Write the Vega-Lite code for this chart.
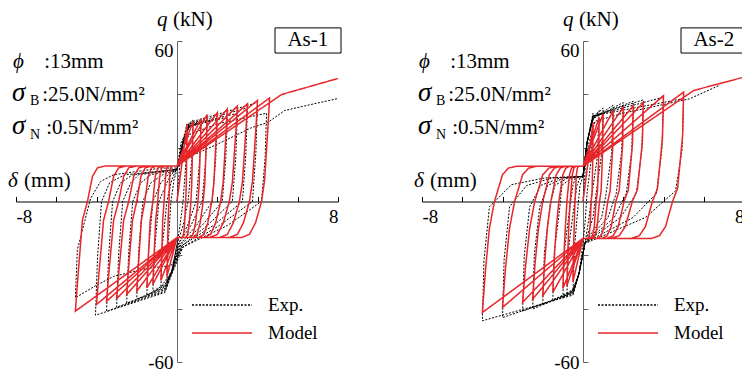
{
"$schema":"https://vega.github.io/schema/vega-lite/v6.json",
"background":"white",
"padding":{"left":7,"top":9,"right":0,"bottom":0},
"bounds":"flush",
"spacing":84,
"config":{
 "view":{"stroke":null},
 "font":"Liberation Serif",
 "axis":{"grid":false,"labelFont":"Liberation Serif","labelFontSize":19,"labelColor":"#000","domainColor":"#000","tickColor":"#000","domainWidth":1,"tickWidth":1},
 "legend":{"symbolType":"M-3,0H3","symbolSize":400,"labelFont":"Liberation Serif","labelFontSize":19,"labelColor":"#000","labelOffset":35,"rowPadding":7,"padding":0,"symbolStrokeWidth":1.3,"orient":"none","legendX":195,"legendY":253},
 "text":{"font":"Liberation Serif","fontSize":21,"color":"#000","align":"left","baseline":"alphabetic"}
},
"datasets":{
"LM":[{"x":0,"y":0},
{"x":0.5,"y":29},{"x":0.49,"y":21.8},{"x":0.46,"y":5.8},{"x":0.43,"y":0},{"x":0.38,"y":-8},{"x":0.33,"y":-12.3},{"x":0.27,"y":-13.5},{"x":0,"y":-13.5},{"x":-0.5,"y":-28},{"x":-0.48,"y":-21},{"x":-0.44,"y":-7},{"x":-0.4,"y":0},{"x":-0.36,"y":9.4},{"x":-0.32,"y":12.6},{"x":-0.25,"y":13.3},{"x":0,"y":13.3},
{"x":0.8,"y":30},{"x":0.78,"y":22.5},{"x":0.73,"y":6},{"x":0.69,"y":0},{"x":0.61,"y":-8},{"x":0.53,"y":-12.3},{"x":0.43,"y":-13.5},{"x":0,"y":-13.5},{"x":-0.8,"y":-29.5},{"x":-0.77,"y":-22.1},{"x":-0.71,"y":-7},{"x":-0.64,"y":0},{"x":-0.57,"y":9.4},{"x":-0.51,"y":12.6},{"x":-0.4,"y":13.3},{"x":0,"y":13.3},
{"x":1.2,"y":31},{"x":1.17,"y":23.3},{"x":1.1,"y":6.2},{"x":1.04,"y":0},{"x":0.92,"y":-8},{"x":0.8,"y":-12.3},{"x":0.64,"y":-13.5},{"x":0,"y":-13.5},{"x":-1.2,"y":-31},{"x":-1.16,"y":-23.3},{"x":-1.06,"y":-7},{"x":-0.96,"y":0},{"x":-0.86,"y":9.4},{"x":-0.76,"y":12.6},{"x":-0.6,"y":13.3},{"x":0,"y":13.3},
{"x":1.5,"y":32.5},{"x":1.47,"y":24.4},{"x":1.38,"y":6.5},{"x":1.3,"y":0},{"x":1.15,"y":-8},{"x":1.0,"y":-12.3},{"x":0.8,"y":-13.5},{"x":0,"y":-13.5},{"x":-1.5,"y":-32.3},{"x":-1.45,"y":-24.2},{"x":-1.33,"y":-7},{"x":-1.2,"y":0},{"x":-1.08,"y":9.4},{"x":-0.95,"y":12.6},{"x":-0.75,"y":13.3},{"x":0,"y":13.3},
{"x":2.0,"y":33.2},{"x":1.95,"y":24.9},{"x":1.83,"y":6.6},{"x":1.73,"y":0},{"x":1.53,"y":-8},{"x":1.33,"y":-12.3},{"x":1.07,"y":-13.5},{"x":0,"y":-13.5},{"x":-2.0,"y":-33.5},{"x":-1.93,"y":-25.1},{"x":-1.77,"y":-7},{"x":-1.6,"y":0},{"x":-1.43,"y":9.4},{"x":-1.27,"y":12.6},{"x":-1.0,"y":13.3},{"x":0,"y":13.3},
{"x":2.5,"y":34.6},{"x":2.44,"y":26},{"x":2.29,"y":6.9},{"x":2.17,"y":0},{"x":1.92,"y":-8},{"x":1.67,"y":-12.3},{"x":1.33,"y":-13.5},{"x":0,"y":-13.5},{"x":-2.5,"y":-34.8},{"x":-2.42,"y":-26.1},{"x":-2.21,"y":-7},{"x":-2.0,"y":0},{"x":-1.79,"y":9.4},{"x":-1.58,"y":12.6},{"x":-1.25,"y":13.3},{"x":0,"y":13.3},
{"x":3.0,"y":35.7},{"x":2.93,"y":26.8},{"x":2.75,"y":7.1},{"x":2.6,"y":0},{"x":2.3,"y":-8},{"x":2.0,"y":-12.3},{"x":1.6,"y":-13.5},{"x":0,"y":-13.5},{"x":-3.0,"y":-36.3},{"x":-2.9,"y":-27.2},{"x":-2.65,"y":-7},{"x":-2.4,"y":0},{"x":-2.15,"y":9.4},{"x":-1.9,"y":12.6},{"x":-1.5,"y":13.3},{"x":0,"y":13.3},
{"x":3.5,"y":36.5},{"x":3.43,"y":27.4},{"x":3.25,"y":7.3},{"x":3.1,"y":0},{"x":2.8,"y":-8},{"x":2.5,"y":-12.3},{"x":2.1,"y":-13.5},{"x":0,"y":-13.5},{"x":-3.5,"y":-37.3},{"x":-3.4,"y":-28},{"x":-3.15,"y":-7},{"x":-2.9,"y":0},{"x":-2.65,"y":9.4},{"x":-2.4,"y":12.6},{"x":-2.0,"y":13.3},{"x":0,"y":13.3},
{"x":4.0,"y":37.8},{"x":3.93,"y":28.4},{"x":3.75,"y":7.6},{"x":3.6,"y":0},{"x":3.3,"y":-8},{"x":3.0,"y":-12.3},{"x":2.6,"y":-13.5},{"x":0,"y":-13.5},{"x":-4.0,"y":-38.5},{"x":-3.9,"y":-28.9},{"x":-3.65,"y":-7},{"x":-3.4,"y":0},{"x":-3.15,"y":9.4},{"x":-2.9,"y":12.6},{"x":-2.5,"y":13.3},{"x":0,"y":13.3},
{"x":4.6,"y":38.7},{"x":4.53,"y":29},{"x":4.35,"y":7.7},{"x":4.2,"y":0},{"x":3.9,"y":-8},{"x":3.6,"y":-12.3},{"x":3.2,"y":-13.5},{"x":0,"y":-13.5},{"x":-5.05,"y":-41},{"x":-4.95,"y":-30.8},{"x":-4.7,"y":-7},{"x":-4.45,"y":0},{"x":-4.2,"y":9.4},{"x":-3.95,"y":12.6},{"x":-3.55,"y":13.3},{"x":0,"y":13.3},
{"x":5.2,"y":40},{"x":8,"y":46}],
"LE":[{"x":0,"y":0},
{"x":0.2,"y":20},{"x":0.5,"y":29},{"x":0.44,"y":14.5},{"x":0.3,"y":0},{"x":0.15,"y":-9},{"x":0,"y":-16},{"x":-0.25,"y":-26},{"x":-0.5,"y":-30},{"x":-0.43,"y":-15},{"x":-0.3,"y":0},{"x":-0.15,"y":8},{"x":0,"y":12},
{"x":0.2,"y":22},{"x":0.8,"y":30.5},{"x":0.73,"y":15},{"x":0.55,"y":0},{"x":0.3,"y":-9},{"x":0,"y":-16},{"x":-0.25,"y":-26},{"x":-0.8,"y":-32},{"x":-0.72,"y":-16},{"x":-0.5,"y":0},{"x":-0.3,"y":7},{"x":-0.1,"y":11},{"x":0,"y":12},
{"x":0.3,"y":22},{"x":0.6,"y":28},{"x":1.2,"y":30.5},{"x":1.12,"y":15},{"x":0.95,"y":0},{"x":0.52,"y":-9},{"x":0.1,"y":-15.5},{"x":-0.3,"y":-27},{"x":-0.6,"y":-31},{"x":-1.2,"y":-33.5},{"x":-1.1,"y":-17},{"x":-0.9,"y":0},{"x":-0.5,"y":7},{"x":-0.3,"y":10},{"x":0,"y":12},
{"x":0.3,"y":22},{"x":0.6,"y":28},{"x":1.5,"y":30.5},{"x":1.42,"y":15},{"x":1.25,"y":0},{"x":0.69,"y":-9},{"x":0.1,"y":-15.5},{"x":-0.3,"y":-27},{"x":-0.6,"y":-31.5},{"x":-1.5,"y":-35},{"x":-1.4,"y":-17.5},{"x":-1.2,"y":0},{"x":-0.8,"y":7},{"x":-0.45,"y":10},{"x":0,"y":12},
{"x":0.3,"y":22},{"x":0.6,"y":28},{"x":2.0,"y":31},{"x":1.92,"y":15.5},{"x":1.75,"y":0},{"x":0.96,"y":-9},{"x":0.15,"y":-16},{"x":-0.3,"y":-27},{"x":-0.6,"y":-32},{"x":-2.0,"y":-36.5},{"x":-1.9,"y":-18},{"x":-1.7,"y":0},{"x":-1.3,"y":7},{"x":-0.7,"y":10},{"x":0,"y":12},
{"x":0.3,"y":22},{"x":0.6,"y":28},{"x":2.5,"y":31.5},{"x":2.42,"y":15.8},{"x":2.25,"y":0},{"x":1.24,"y":-9},{"x":0.2,"y":-16},{"x":-0.3,"y":-27},{"x":-0.6,"y":-32.5},{"x":-2.5,"y":-38},{"x":-2.4,"y":-19},{"x":-2.2,"y":0},{"x":-1.8,"y":7},{"x":-1.3,"y":10},{"x":0,"y":12},
{"x":0.3,"y":22},{"x":0.6,"y":28.5},{"x":3.0,"y":33},{"x":2.92,"y":16.5},{"x":2.75,"y":0},{"x":1.5,"y":-9},{"x":0.25,"y":-16.5},{"x":-0.3,"y":-27},{"x":-0.6,"y":-33},{"x":-3.0,"y":-39.5},{"x":-2.9,"y":-20},{"x":-2.7,"y":0},{"x":-2.3,"y":7},{"x":-1.9,"y":10},{"x":0,"y":12},
{"x":0.3,"y":22},{"x":0.6,"y":29},{"x":3.5,"y":35},{"x":3.42,"y":17.5},{"x":3.25,"y":0},{"x":1.8,"y":-9},{"x":0.25,"y":-16.5},{"x":-0.3,"y":-27.5},{"x":-0.6,"y":-33.5},{"x":-3.5,"y":-41},{"x":-3.4,"y":-20.5},{"x":-3.2,"y":0},{"x":-2.8,"y":7},{"x":-2.2,"y":10},{"x":0,"y":12},
{"x":0.3,"y":22},{"x":0.6,"y":29.5},{"x":4.0,"y":37},{"x":3.92,"y":18.5},{"x":3.75,"y":0},{"x":2.1,"y":-9},{"x":0.3,"y":-17},{"x":-0.3,"y":-28},{"x":-0.6,"y":-34},{"x":-4.05,"y":-42.5},{"x":-3.95,"y":-21},{"x":-3.75,"y":0},{"x":-3.35,"y":7},{"x":-2.6,"y":10},{"x":0,"y":12},
{"x":0.3,"y":20},{"x":0.6,"y":25},{"x":2.0,"y":29},{"x":4.45,"y":33},{"x":4.38,"y":16.5},{"x":4.2,"y":0},{"x":2.5,"y":-9},{"x":0.3,"y":-17},{"x":-0.3,"y":-24},{"x":-1.5,"y":-25},{"x":-3.15,"y":-28},{"x":-4.05,"y":-31.5},{"x":-5.05,"y":-36},{"x":-4.95,"y":-18},{"x":-4.3,"y":1},{"x":-3.8,"y":7.5},{"x":-3.15,"y":10},{"x":-0.8,"y":12.5},{"x":0,"y":12.5},
{"x":0.3,"y":16},{"x":1.0,"y":18},{"x":2.0,"y":21.4},{"x":3.7,"y":27.6},{"x":4.5,"y":29.5},{"x":5.35,"y":34},{"x":6.5,"y":36},{"x":8,"y":38.5}],
"RM":[{"x":0,"y":0},
{"x":0.5,"y":29.5},{"x":0.49,"y":17.7},{"x":0.45,"y":3.5},{"x":0.41,"y":0},{"x":0.35,"y":-9.4},{"x":0.3,"y":-12.8},{"x":0.23,"y":-13.8},{"x":0,"y":-13.8},{"x":-0.5,"y":-30},{"x":-0.48,"y":-18.9},{"x":-0.44,"y":-10},{"x":-0.4,"y":0},{"x":-0.33,"y":10},{"x":-0.28,"y":12.5},{"x":-0.22,"y":13.2},{"x":0,"y":13.2},
{"x":0.8,"y":31.4},{"x":0.79,"y":18.8},{"x":0.72,"y":3.8},{"x":0.65,"y":0},{"x":0.56,"y":-9.4},{"x":0.48,"y":-12.8},{"x":0.37,"y":-13.8},{"x":0,"y":-13.8},{"x":-0.8,"y":-31.5},{"x":-0.76,"y":-19.8},{"x":-0.71,"y":-10},{"x":-0.64,"y":0},{"x":-0.53,"y":10},{"x":-0.45,"y":12.5},{"x":-0.35,"y":13.2},{"x":0,"y":13.2},
{"x":1.0,"y":32.7},{"x":0.98,"y":19.6},{"x":0.9,"y":3.9},{"x":0.82,"y":0},{"x":0.7,"y":-9.4},{"x":0.6,"y":-12.8},{"x":0.47,"y":-13.8},{"x":0,"y":-13.8},{"x":-1.0,"y":-32.5},{"x":-0.95,"y":-20.5},{"x":-0.88,"y":-10},{"x":-0.8,"y":0},{"x":-0.67,"y":10},{"x":-0.57,"y":12.5},{"x":-0.43,"y":13.2},{"x":0,"y":13.2},
{"x":1.5,"y":34},{"x":1.48,"y":20.4},{"x":1.35,"y":4.1},{"x":1.23,"y":0},{"x":1.05,"y":-9.4},{"x":0.9,"y":-12.8},{"x":0.7,"y":-13.8},{"x":0,"y":-13.8},{"x":-1.5,"y":-34},{"x":-1.43,"y":-21.4},{"x":-1.33,"y":-10},{"x":-1.2,"y":0},{"x":-1.0,"y":10},{"x":-0.85,"y":12.5},{"x":-0.65,"y":13.2},{"x":0,"y":13.2},
{"x":2.0,"y":35.2},{"x":1.97,"y":21.1},{"x":1.8,"y":4.2},{"x":1.63,"y":0},{"x":1.4,"y":-9.4},{"x":1.2,"y":-12.8},{"x":0.93,"y":-13.8},{"x":0,"y":-13.8},{"x":-2.0,"y":-35.2},{"x":-1.9,"y":-22.2},{"x":-1.77,"y":-10},{"x":-1.6,"y":0},{"x":-1.33,"y":10},{"x":-1.13,"y":12.5},{"x":-0.87,"y":13.2},{"x":0,"y":13.2},
{"x":2.5,"y":35.8},{"x":2.46,"y":21.5},{"x":2.25,"y":4.3},{"x":2.04,"y":0},{"x":1.75,"y":-9.4},{"x":1.5,"y":-12.8},{"x":1.17,"y":-13.8},{"x":0,"y":-13.8},{"x":-2.5,"y":-36.5},{"x":-2.38,"y":-23},{"x":-2.21,"y":-10},{"x":-2.0,"y":0},{"x":-1.67,"y":10},{"x":-1.42,"y":12.5},{"x":-1.08,"y":13.2},{"x":0,"y":13.2},
{"x":3.0,"y":37},{"x":2.95,"y":22.2},{"x":2.7,"y":4.4},{"x":2.45,"y":0},{"x":2.1,"y":-9.4},{"x":1.8,"y":-12.8},{"x":1.4,"y":-13.8},{"x":0,"y":-13.8},{"x":-3.0,"y":-37.7},{"x":-2.85,"y":-23.8},{"x":-2.65,"y":-10},{"x":-2.4,"y":0},{"x":-2.0,"y":10},{"x":-1.7,"y":12.5},{"x":-1.3,"y":13.2},{"x":0,"y":13.2},
{"x":4.0,"y":39.6},{"x":3.95,"y":23.8},{"x":3.7,"y":4.8},{"x":3.45,"y":0},{"x":3.1,"y":-9.4},{"x":2.8,"y":-12.8},{"x":2.4,"y":-13.8},{"x":0,"y":-13.8},{"x":-4.0,"y":-39.6},{"x":-3.85,"y":-24.9},{"x":-3.65,"y":-10},{"x":-3.4,"y":0},{"x":-3.0,"y":10},{"x":-2.7,"y":12.5},{"x":-2.3,"y":13.2},{"x":0,"y":13.2},
{"x":5.0,"y":40.9},{"x":4.95,"y":24.5},{"x":4.7,"y":4.9},{"x":4.45,"y":0},{"x":4.1,"y":-9.4},{"x":3.8,"y":-12.8},{"x":3.4,"y":-13.8},{"x":0,"y":-13.8},{"x":-5.0,"y":-41.5},{"x":-4.85,"y":-26.1},{"x":-4.65,"y":-10},{"x":-4.4,"y":0},{"x":-4.0,"y":10},{"x":-3.7,"y":12.5},{"x":-3.3,"y":13.2},{"x":0,"y":13.2},
{"x":5.5,"y":41.5},{"x":8,"y":46.5}],
"RE":[{"x":0,"y":0},
{"x":0.2,"y":22},{"x":0.5,"y":33},{"x":0.42,"y":16.5},{"x":0.2,"y":3},{"x":0.1,"y":-8},{"x":0,"y":-15.5},{"x":-0.2,"y":-27},{"x":-0.5,"y":-34},{"x":-0.42,"y":-17},{"x":-0.25,"y":-2},{"x":-0.15,"y":6},{"x":0,"y":9.4},
{"x":0.2,"y":22},{"x":0.5,"y":31},{"x":0.8,"y":34},{"x":0.72,"y":17},{"x":0.45,"y":3},{"x":0.3,"y":-6},{"x":0.1,"y":-15.5},{"x":-0.2,"y":-27},{"x":-0.5,"y":-33},{"x":-0.8,"y":-35.2},{"x":-0.72,"y":-17.6},{"x":-0.45,"y":-2},{"x":-0.3,"y":6},{"x":-0.15,"y":8.8},{"x":0,"y":9.4},
{"x":0.2,"y":22},{"x":0.5,"y":31},{"x":1.0,"y":35},{"x":0.92,"y":17.5},{"x":0.65,"y":3},{"x":0.5,"y":-6},{"x":0.1,"y":-15.5},{"x":-0.2,"y":-27},{"x":-0.5,"y":-33},{"x":-1.0,"y":-36},{"x":-0.92,"y":-18},{"x":-0.65,"y":-2},{"x":-0.5,"y":6},{"x":-0.38,"y":8.8},{"x":0,"y":9.4},
{"x":0.2,"y":22},{"x":0.5,"y":31},{"x":1.5,"y":36},{"x":1.42,"y":18},{"x":1.15,"y":3},{"x":0.93,"y":-6},{"x":0.1,"y":-15.5},{"x":-0.2,"y":-27},{"x":-0.5,"y":-33},{"x":-1.5,"y":-37},{"x":-1.42,"y":-18.5},{"x":-1.15,"y":-2},{"x":-1.05,"y":6},{"x":-0.57,"y":8.8},{"x":0,"y":9.4},
{"x":0.2,"y":22},{"x":0.5,"y":31},{"x":2.0,"y":37},{"x":1.92,"y":18.5},{"x":1.65,"y":3},{"x":1.24,"y":-6},{"x":0.1,"y":-15.5},{"x":-0.2,"y":-27},{"x":-0.5,"y":-33.5},{"x":-2.0,"y":-38.4},{"x":-1.92,"y":-19.2},{"x":-1.65,"y":-2},{"x":-1.4,"y":6},{"x":-0.76,"y":8.8},{"x":0,"y":9.4},
{"x":0.2,"y":22},{"x":0.5,"y":31.5},{"x":2.5,"y":37.5},{"x":2.42,"y":18.8},{"x":2.15,"y":3},{"x":1.55,"y":-6},{"x":0.1,"y":-15.5},{"x":-0.2,"y":-27},{"x":-0.5,"y":-34},{"x":-2.5,"y":-40.2},{"x":-2.42,"y":-20},{"x":-2.15,"y":-2},{"x":-1.75,"y":6},{"x":-0.95,"y":8.8},{"x":0,"y":9.4},
{"x":0.2,"y":22},{"x":0.5,"y":32},{"x":3.0,"y":38},{"x":2.92,"y":19},{"x":2.65,"y":3},{"x":1.86,"y":-6},{"x":0.1,"y":-15.5},{"x":-0.2,"y":-27},{"x":-0.5,"y":-34},{"x":-3.0,"y":-41},{"x":-2.92,"y":-20.5},{"x":-2.65,"y":-2},{"x":-2.1,"y":6},{"x":-1.14,"y":8.8},{"x":0,"y":9.4},
{"x":0.2,"y":22},{"x":0.5,"y":32},{"x":4.0,"y":39},{"x":3.92,"y":19.5},{"x":3.65,"y":3},{"x":2.48,"y":-6},{"x":0.1,"y":-15.5},{"x":-0.2,"y":-27},{"x":-0.5,"y":-34.5},{"x":-4.0,"y":-43.4},{"x":-3.92,"y":-21.7},{"x":-3.65,"y":-2},{"x":-2.8,"y":6},{"x":-1.52,"y":8.8},{"x":0,"y":9.4},
{"x":0.2,"y":22},{"x":0.5,"y":32},{"x":5.0,"y":38.5},{"x":4.92,"y":19.3},{"x":4.6,"y":4},{"x":3.1,"y":-6},{"x":0.1,"y":-15.7},{"x":-0.2,"y":-27},{"x":-0.5,"y":-35},{"x":-5.0,"y":-44.6},{"x":-4.92,"y":-22},{"x":-4.65,"y":-2},{"x":-3.55,"y":6.3},{"x":-1.9,"y":8.8},{"x":0,"y":9.4},
{"x":0.3,"y":22},{"x":0.6,"y":30},{"x":2.0,"y":33},{"x":5.3,"y":38.4},{"x":6.8,"y":43.5}]
},
"resolve":{"scale":{"color":"independent","strokeDash":"independent"},"legend":{"color":"independent","strokeDash":"independent"}},
"hconcat":[
{"width":322,"height":321,"data":{"values":[{}]},
 "layer":[
  {"data":{"name":"LE"},"mark":{"type":"line","strokeWidth":1},
   "encoding":{
    "x":{"field":"x","type":"quantitative","scale":{"domain":[-8,8],"nice":false,"zero":false},
      "axis":{"title":null,"orient":"bottom","offset":-160.5,"values":[-8,-6,-4,-2,0,2,4,6,8],"tickSize":-5,"labelExpr":"datum.value == -8 ? '-8' : (datum.value == 8 ? '8' : '')","labelFlush":true,"labelPadding":11,"labelOverlap":false}},
    "y":{"field":"y","type":"quantitative","scale":{"domain":[-60,60],"nice":false,"zero":false},
      "axis":{"title":null,"orient":"left","offset":-161,"values":[-60,-40,-20,0,20,40,60],"tickSize":-5,"labelExpr":"datum.value == -60 ? '-60' : (datum.value == 60 ? '60' : '')","labelPadding":9,"labelOverlap":false,"labelBaseline":{"condition":{"test":"datum.value > 0","value":"top"},"value":"middle"},"domainColor":"#666","tickColor":"#666"}},
    "order":{"value":null},
    "color":{"datum":"Exp.","type":"nominal","scale":{"domain":["Exp.","Model"],"range":["#000000","#e8262a"]},"legend":{"title":null}},
    "strokeDash":{"datum":"Exp.","type":"nominal","scale":{"domain":["Exp.","Model"],"range":[[2,1.5],[1,0]]},"legend":{"title":null}}
   }},
  {"data":{"name":"LM"},"mark":{"type":"line","strokeWidth":1.5},
   "encoding":{"x":{"field":"x","type":"quantitative"},"y":{"field":"y","type":"quantitative"},"order":{"value":null},
    "color":{"datum":"Model","type":"nominal"},"strokeDash":{"datum":"Model","type":"nominal"}}},
  {"mark":{"type":"text","text":"q","fontStyle":"italic"},"encoding":{"x":{"datum":-1.0,"type":"quantitative"},"y":{"datum":65.6,"type":"quantitative"}}},
  {"mark":{"type":"text","text":"(kN)"},"encoding":{"x":{"datum":-0.2,"type":"quantitative"},"y":{"datum":65.6,"type":"quantitative"}}},
  {"mark":{"type":"text","text":"δ","fontStyle":"italic"},"encoding":{"x":{"datum":-8.4,"type":"quantitative"},"y":{"datum":5.4,"type":"quantitative"}}},
  {"mark":{"type":"text","text":"(mm)"},"encoding":{"x":{"datum":-7.6,"type":"quantitative"},"y":{"datum":5.4,"type":"quantitative"}}},
  {"mark":{"type":"text","text":"ϕ","fontStyle":"italic"},"encoding":{"x":{"datum":-8.15,"type":"quantitative"},"y":{"datum":49.9,"type":"quantitative"}}},
  {"mark":{"type":"text","text":":13mm"},"encoding":{"x":{"datum":-6.6,"type":"quantitative"},"y":{"datum":49.9,"type":"quantitative"}}},
  {"mark":{"type":"text","text":"σ","fontStyle":"italic","fontSize":27},"encoding":{"x":{"datum":-8.2,"type":"quantitative"},"y":{"datum":37.6,"type":"quantitative"}}},
  {"mark":{"type":"text","text":"B","fontSize":14},"encoding":{"x":{"datum":-7.3,"type":"quantitative"},"y":{"datum":36.2,"type":"quantitative"}}},
  {"mark":{"type":"text","text":":25.0N/mm²"},"encoding":{"x":{"datum":-6.7,"type":"quantitative"},"y":{"datum":37.6,"type":"quantitative"}}},
  {"mark":{"type":"text","text":"σ","fontStyle":"italic","fontSize":27},"encoding":{"x":{"datum":-8.2,"type":"quantitative"},"y":{"datum":25.2,"type":"quantitative"}}},
  {"mark":{"type":"text","text":"N","fontSize":14},"encoding":{"x":{"datum":-7.3,"type":"quantitative"},"y":{"datum":23.4,"type":"quantitative"}}},
  {"mark":{"type":"text","text":":0.5N/mm²"},"encoding":{"x":{"datum":-6.5,"type":"quantitative"},"y":{"datum":25.2,"type":"quantitative"}}},
  {"mark":{"type":"rect","fill":"#ffffff","stroke":"#000000","strokeWidth":1},"encoding":{"x":{"datum":4.87,"type":"quantitative"},"x2":{"datum":8.15},"y":{"datum":64.9,"type":"quantitative"},"y2":{"datum":55.5}}},
  {"mark":{"type":"text","text":"As-1","align":"center","baseline":"middle"},"encoding":{"x":{"datum":6.5,"type":"quantitative"},"y":{"datum":60.2,"type":"quantitative"}}}
 ]},
{"width":322,"height":321,"data":{"values":[{}]},
 "layer":[
  {"data":{"name":"RE"},"mark":{"type":"line","strokeWidth":1},
   "encoding":{
    "x":{"field":"x","type":"quantitative","scale":{"domain":[-8,8],"nice":false,"zero":false},
      "axis":{"title":null,"orient":"bottom","offset":-160.5,"values":[-8,-6,-4,-2,0,2,4,6,8],"tickSize":-5,"labelExpr":"datum.value == -8 ? '-8' : (datum.value == 8 ? '8' : '')","labelFlush":true,"labelPadding":11,"labelOverlap":false}},
    "y":{"field":"y","type":"quantitative","scale":{"domain":[-60,60],"nice":false,"zero":false},
      "axis":{"title":null,"orient":"left","offset":-161,"values":[-60,-40,-20,0,20,40,60],"tickSize":-5,"labelExpr":"datum.value == -60 ? '-60' : (datum.value == 60 ? '60' : '')","labelPadding":9,"labelOverlap":false,"labelBaseline":{"condition":{"test":"datum.value > 0","value":"top"},"value":"middle"},"domainColor":"#666","tickColor":"#666"}},
    "order":{"value":null},
    "color":{"datum":"Exp.","type":"nominal","scale":{"domain":["Exp.","Model"],"range":["#000000","#e8262a"]},"legend":{"title":null}},
    "strokeDash":{"datum":"Exp.","type":"nominal","scale":{"domain":["Exp.","Model"],"range":[[2,1.5],[1,0]]},"legend":{"title":null}}
   }},
  {"data":{"name":"RM"},"mark":{"type":"line","strokeWidth":1.5},
   "encoding":{"x":{"field":"x","type":"quantitative"},"y":{"field":"y","type":"quantitative"},"order":{"value":null},
    "color":{"datum":"Model","type":"nominal"},"strokeDash":{"datum":"Model","type":"nominal"}}},
  {"mark":{"type":"text","text":"q","fontStyle":"italic"},"encoding":{"x":{"datum":-1.0,"type":"quantitative"},"y":{"datum":65.6,"type":"quantitative"}}},
  {"mark":{"type":"text","text":"(kN)"},"encoding":{"x":{"datum":-0.2,"type":"quantitative"},"y":{"datum":65.6,"type":"quantitative"}}},
  {"mark":{"type":"text","text":"δ","fontStyle":"italic"},"encoding":{"x":{"datum":-8.4,"type":"quantitative"},"y":{"datum":5.4,"type":"quantitative"}}},
  {"mark":{"type":"text","text":"(mm)"},"encoding":{"x":{"datum":-7.6,"type":"quantitative"},"y":{"datum":5.4,"type":"quantitative"}}},
  {"mark":{"type":"text","text":"ϕ","fontStyle":"italic"},"encoding":{"x":{"datum":-8.15,"type":"quantitative"},"y":{"datum":49.9,"type":"quantitative"}}},
  {"mark":{"type":"text","text":":13mm"},"encoding":{"x":{"datum":-6.6,"type":"quantitative"},"y":{"datum":49.9,"type":"quantitative"}}},
  {"mark":{"type":"text","text":"σ","fontStyle":"italic","fontSize":27},"encoding":{"x":{"datum":-8.2,"type":"quantitative"},"y":{"datum":37.6,"type":"quantitative"}}},
  {"mark":{"type":"text","text":"B","fontSize":14},"encoding":{"x":{"datum":-7.3,"type":"quantitative"},"y":{"datum":36.2,"type":"quantitative"}}},
  {"mark":{"type":"text","text":":25.0N/mm²"},"encoding":{"x":{"datum":-6.7,"type":"quantitative"},"y":{"datum":37.6,"type":"quantitative"}}},
  {"mark":{"type":"text","text":"σ","fontStyle":"italic","fontSize":27},"encoding":{"x":{"datum":-8.2,"type":"quantitative"},"y":{"datum":25.2,"type":"quantitative"}}},
  {"mark":{"type":"text","text":"N","fontSize":14},"encoding":{"x":{"datum":-7.3,"type":"quantitative"},"y":{"datum":23.4,"type":"quantitative"}}},
  {"mark":{"type":"text","text":":0.5N/mm²"},"encoding":{"x":{"datum":-6.5,"type":"quantitative"},"y":{"datum":25.2,"type":"quantitative"}}},
  {"mark":{"type":"rect","fill":"#ffffff","stroke":"#000000","strokeWidth":1},"encoding":{"x":{"datum":4.87,"type":"quantitative"},"x2":{"datum":8.15},"y":{"datum":64.9,"type":"quantitative"},"y2":{"datum":55.5}}},
  {"mark":{"type":"text","text":"As-2","align":"center","baseline":"middle"},"encoding":{"x":{"datum":6.5,"type":"quantitative"},"y":{"datum":60.2,"type":"quantitative"}}}
 ]}
]
}
